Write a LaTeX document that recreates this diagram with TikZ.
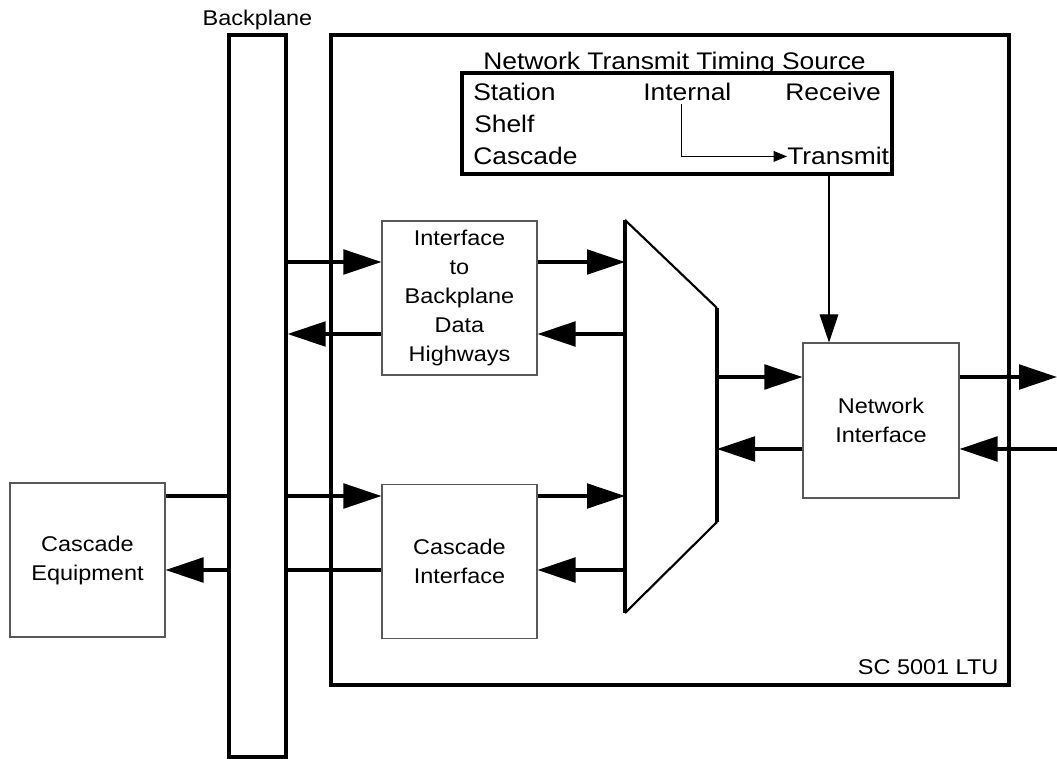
\documentclass[tikz,border=0pt]{standalone}
\usepackage{fontspec}
\setmainfont[FakeStretch=1.1]{Liberation Sans}
\usetikzlibrary{arrows.meta,positioning}

\begin{document}
\begin{tikzpicture}[x=0.75pt,y=-0.75pt,
    big/.style={line width=2.4pt},
    bighead/.style={big,-{Triangle[length=28.5pt,width=18.5pt]}},
    thickframe/.style={draw,big,inner sep=0pt},
    box/.style={draw=black!65,line width=0.8pt,minimum width=116.25pt,minimum height=115.5pt,
        align=center,font=\fontsize{16}{21.75}\selectfont},
    lbl/.style={inner sep=0pt,font=\fontsize{16}{20}\selectfont},
    src/.style={inner sep=0pt,font=\fontsize{18}{22}\selectfont}]

\useasboundingbox (0,0) rectangle (1057,759);

% backplane and the LTU shelf
\node[thickframe,minimum width=42.75pt,minimum height=541.5pt] (bp) at (257.5,396) {};
\node[lbl,above=2.5pt of bp] (bplbl) {Backplane};
\node[thickframe,minimum width=508.5pt,minimum height=487.5pt] (ltu) at (670,360) {};
\node[lbl,anchor=base east] (ltulbl) at ([shift={(-9pt,9pt)}]ltu.south east) {SC 5001 LTU};

% timing source selector
\node[thickframe,minimum width=322.5pt,minimum height=75.75pt] (nts) at (677,123.5) {};
\node[src,anchor=base]       (ntslbl) at (674.5,70) {Network Transmit Timing Source};
\node[src,anchor=base west]  (stn)    at (473,101)  {Station};
\node[src,anchor=base west]  (shf)    at (474,133)  {Shelf};
\node[src,anchor=base west]  (csc)    at (473,165)  {Cascade};
\node[src,anchor=base west]  (int)    at (643,101)  {Internal};
\node[src,anchor=base east]  (rcv)    at (881,101)  {Receive};
\node[src,anchor=base west]  (tx)     at (787,165)  {Transmit};

% function blocks
\node[box] (ibdh) at (459.5,298)   {Interface\\to\\Backplane\\Data\\Highways};
\node[box] (ci)   at (459.5,561.5) {Cascade\\Interface};
\node[box] (ce)   at (87.5,560)    {Cascade\\Equipment};
\node[box,minimum width=117pt,minimum height=116.25pt] (ni) at (881,420.5) {Network\\Interface};

% mux
\coordinate (mtl) at (625,220);
\coordinate (mtr) at (717,308);
\coordinate (mbr) at (717,522);
\coordinate (mbl) at (625,613);
\draw[line width=1.6pt] (mtl) -- (mtr) (mbr) -- (mbl);
\draw[big] (mtl) -- (mbl) (mtr) -- (mbr);

% signal rows
\coordinate (r1) at (0,262);
\coordinate (r2) at (0,334);
\coordinate (r3) at (0,377);
\coordinate (r4) at (0,449);
\coordinate (r5) at (0,496);
\coordinate (r6) at (0,570);
\coordinate (netout) at (1057,377);
\coordinate (netin)  at (1057,449);
\coordinate (tap) at (829,0);

\draw[bighead] (bp.east |- r1) -- (ibdh.west |- r1);
\draw[bighead] (ibdh.east |- r1) -- (mtl |- r1);
\draw[bighead] (ibdh.west |- r2) -- (bp.east |- r2);
\draw[bighead] (mtl |- r2) -- (ibdh.east |- r2);
\draw[bighead] (mtr |- r3) -- (ni.west |- r3);
\draw[bighead] (ni.east |- r3) -- (netout);
\draw[bighead] (ni.west |- r4) -- (mtr |- r4);
\draw[bighead] (netin) -- (ni.east |- r4);
\draw[big]     (ce.east |- r5) -- (bp.west |- r5);
\draw[bighead] (bp.east |- r5) -- (ci.west |- r5);
\draw[bighead] (ci.east |- r5) -- (mbl |- r5);
\draw[bighead] (bp.west |- r6) -- (ce.east |- r6);
\draw[big]     (bp.east |- r6) -- (ci.west |- r6);
\draw[bighead] (mbl |- r6) -- (ci.east |- r6);

% timing
\draw[line width=0.8pt,-{Triangle[length=10pt,width=8pt]}] ([shift={(-4.5pt,-2pt)}]int.south) |- (tx.west);
\draw[line width=0.8pt,-{Triangle[length=21pt,width=14pt]}] (nts.south -| tap) -- (ni.north -| tap);
\end{tikzpicture}
\end{document}
